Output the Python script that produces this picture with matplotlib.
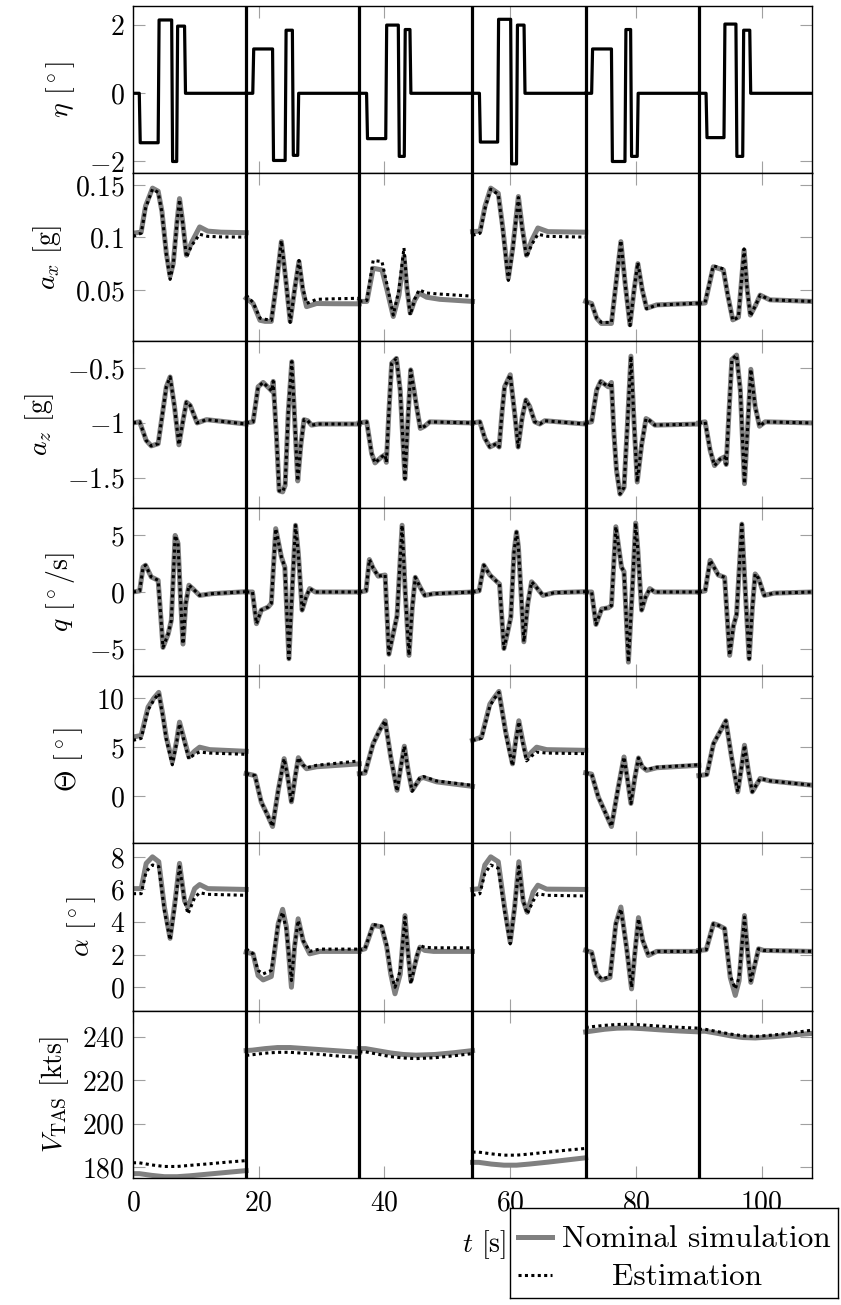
import numpy as np
import matplotlib
matplotlib.use("Agg")
import matplotlib.pyplot as plt
from matplotlib.ticker import FuncFormatter

plt.rcParams['font.family'] = 'serif'
plt.rcParams['font.serif'] = ['cmr10', 'DejaVu Serif']
plt.rcParams['mathtext.fontset'] = 'cm'
plt.rcParams['axes.formatter.use_mathtext'] = True
plt.rcParams['axes.unicode_minus'] = True

seg_len = 18  # [s] duration of each manoeuvre
n_seg = 6

# --------- elevator deflection eta [deg] --------- #
eta_t = [[0, 1.0, 1.15, 4.0, 4.15, 6.15, 6.3, 6.95, 7.1, 8.2, 8.35, 18],
         [0, 1.05, 1.2, 4.2, 4.35, 6.2, 6.35, 7.35, 7.5, 8.2, 8.35, 18],
         [0, 1.15, 1.3, 4.2, 4.35, 6.2, 6.35, 7.15, 7.3, 8.05, 8.2, 18],
         [0, 1.1, 1.25, 4.0, 4.15, 6.07, 6.22, 7.0, 7.15, 8.2, 8.35, 18],
         [0, 0.95, 1.1, 4.1, 4.25, 6.25, 6.4, 7.15, 7.3, 8.2, 8.35, 18],
         [0, 1.15, 1.3, 4.0, 4.15, 5.9, 6.05, 6.98, 7.13, 8.1, 8.25, 18]]
eta_v = [[0, 0, -1.45, -1.45, 2.15, 2.15, -2.0, -2.0, 1.97, 1.97, 0, 0],
         [0, 0, 1.3, 1.3, -1.97, -1.97, 1.85, 1.85, -1.82, -1.82, 0, 0],
         [0, 0, -1.33, -1.33, 2.0, 2.0, -1.85, -1.85, 1.87, 1.87, 0, 0],
         [0, 0, -1.43, -1.43, 2.17, 2.17, -2.07, -2.07, 2.0, 2.0, 0, 0],
         [0, 0, 1.3, 1.3, -2.0, -2.0, 1.87, 1.87, -1.85, -1.85, 0, 0],
         [0, 0, -1.3, -1.3, 2.03, 2.03, -1.85, -1.85, 1.85, 1.85, 0, 0]]

# --------- a_x [g] --------- #
ax_t = [[0, 1.3, 2.0, 3.1, 4.0, 4.6, 5.3, 5.9, 6.4, 7.0, 7.4, 7.9, 8.5, 9.3, 10.6, 11.9, 14.0, 18],
        [0, 1.1, 2.2, 3.0, 4.0, 4.8, 5.6, 6.3, 7.0, 7.7, 8.4, 9.0, 9.6, 11.2, 14, 18],
        [0, 1.2, 2.2, 3.6, 4.4, 5.4, 6.3, 7.1, 7.6, 8.1, 8.8, 9.5, 10.7, 12.8, 18],
        [0, 1.2, 2.0, 2.9, 4.1, 4.8, 5.7, 6.4, 7.3, 7.9, 8.6, 9.4, 10.4, 12.0, 18],
        [0, 0.95, 1.75, 2.5, 4.1, 4.9, 5.6, 6.3, 7.05, 7.7, 8.3, 9.0, 9.7, 11.3, 18],
        [0, 1.0, 2.3, 3.9, 4.6, 5.4, 6.3, 7.2, 7.7, 8.2, 9.0, 9.75, 11.3, 18]]
ax_nom = [[0.104, 0.105, 0.13, 0.147, 0.144, 0.125, 0.085, 0.063, 0.075, 0.115, 0.137, 0.115, 0.083, 0.095, 0.110, 0.106, 0.105, 0.1045],
          [0.042, 0.037, 0.021, 0.020, 0.020, 0.055, 0.096, 0.06, 0.020, 0.05, 0.077, 0.05, 0.034, 0.037, 0.0368, 0.0367],
          [0.039, 0.039, 0.0706, 0.069, 0.05, 0.0246, 0.045, 0.082, 0.05, 0.028, 0.04, 0.047, 0.043, 0.041, 0.039],
          [0.1055, 0.106, 0.13, 0.147, 0.142, 0.11, 0.061, 0.09, 0.139, 0.11, 0.083, 0.097, 0.109, 0.1055, 0.105],
          [0.039, 0.037, 0.023, 0.018, 0.018, 0.06, 0.096, 0.055, 0.0167, 0.05, 0.075, 0.05, 0.0325, 0.0357, 0.0373],
          [0.037, 0.0375, 0.072, 0.069, 0.045, 0.0214, 0.024, 0.088, 0.05, 0.026, 0.035, 0.045, 0.0405, 0.039]]
ax_est = [[0.101, 0.104, 0.128, 0.146, 0.143, 0.124, 0.084, 0.060, 0.074, 0.114, 0.136, 0.114, 0.081, 0.092, 0.103, 0.101, 0.1005, 0.1003],
          [0.045, 0.038, 0.023, 0.022, 0.021, 0.055, 0.097, 0.06, 0.019, 0.05, 0.078, 0.052, 0.037, 0.041, 0.0415, 0.042],
          [0.039, 0.040, 0.078, 0.077, 0.055, 0.026, 0.05, 0.090, 0.052, 0.026, 0.041, 0.05, 0.047, 0.046, 0.044],
          [0.102, 0.104, 0.128, 0.146, 0.141, 0.108, 0.059, 0.088, 0.138, 0.108, 0.081, 0.093, 0.103, 0.101, 0.1003],
          [0.038, 0.037, 0.023, 0.019, 0.019, 0.06, 0.097, 0.055, 0.016, 0.05, 0.076, 0.05, 0.032, 0.0355, 0.0373],
          [0.037, 0.038, 0.073, 0.070, 0.045, 0.021, 0.024, 0.089, 0.05, 0.025, 0.035, 0.045, 0.0405, 0.039]]

# --------- a_z [g] --------- #
az_t = [[0, 1.06, 2.1, 2.9, 4.0, 4.6, 5.3, 5.9, 6.6, 7.3, 7.95, 8.5, 9.1, 10.2, 11.7, 18],
        [0, 1.1, 1.9, 2.7, 3.6, 4.1, 4.3, 4.8, 5.25, 5.8, 6.2, 6.7, 7.26, 7.7, 8.2, 8.7, 9.2, 9.8, 10.4, 11.5, 18],
        [0, 1.17, 1.96, 2.5, 3.55, 4.1, 4.3, 4.7, 5.14, 5.9, 6.5, 7.26, 7.7, 8.17, 8.7, 9.1, 9.7, 10.4, 11.2, 18],
        [0, 1.17, 1.96, 2.76, 3.8, 4.24, 4.7, 5.1, 6.0, 6.7, 7.26, 7.9, 8.5, 9.1, 9.9, 10.7, 11.5, 18],
        [0, 0.95, 1.75, 2.4, 3.6, 4.1, 4.5, 4.9, 5.46, 6.1, 6.7, 7.2, 7.7, 8.2, 8.9, 9.6, 10.2, 11.0, 18],
        [0, 1.0, 1.8, 2.5, 3.4, 4.1, 4.35, 4.8, 5.25, 6.0, 6.6, 7.26, 7.8, 8.27, 8.96, 9.65, 10.55, 18]]
az_nom = [[-1.0, -0.99, -1.16, -1.21, -1.19, -0.95, -0.67, -0.58, -0.85, -1.20, -0.98, -0.81, -0.84, -1.0, -0.97, -1.01],
          [-1.0, -0.99, -0.67, -0.63, -0.68, -0.71, -0.62, -1.1, -1.62, -1.63, -1.57, -0.9, -0.44, -0.95, -1.53, -1.2, -0.97, -0.98, -1.02, -1.01, -1.01],
          [-1.0, -0.99, -1.28, -1.365, -1.31, -1.29, -1.36, -0.9, -0.455, -0.41, -0.7, -1.51, -1.0, -0.515, -0.7, -0.85, -1.05, -1.03, -0.99, -1.0],
          [-1.0, -0.99, -1.14, -1.22, -1.19, -1.22, -0.9, -0.67, -0.56, -0.91, -1.22, -0.95, -0.79, -0.85, -0.99, -1.01, -0.98, -1.01],
          [-1.0, -0.99, -0.70, -0.62, -0.67, -0.63, -1.1, -1.43, -1.65, -1.59, -0.95, -0.39, -1.0, -1.54, -1.2, -0.96, -0.98, -1.02, -1.01],
          [-1.0, -0.99, -1.25, -1.39, -1.33, -1.31, -1.38, -0.9, -0.42, -0.38, -0.7, -1.555, -1.0, -0.51, -0.85, -1.03, -0.99, -1.0]]
az_est = az_nom  # estimation lies on the nominal curve

# --------- q [deg/s] --------- #
q_t = [[0, 1.06, 1.6, 2.0, 2.9, 4.0, 4.4, 4.77, 5.6, 6.1, 6.7, 7.16, 7.6, 7.95, 8.4, 8.9, 9.5, 10.6, 12.5, 18],
       [0, 1.0, 1.64, 2.4, 3.5, 4.0, 4.7, 5.6, 6.15, 6.8, 7.3, 7.85, 8.3, 8.9, 9.5, 10.1, 11.0, 18],
       [0, 1.06, 1.6, 2.2, 3.0, 4.1, 4.7, 5.5, 6.0, 6.8, 7.3, 7.9, 8.4, 8.9, 9.65, 10.4, 11.8, 18],
       [0, 1.06, 1.8, 2.76, 3.9, 4.3, 5.0, 5.8, 6.1, 6.6, 7.0, 7.3, 8.17, 8.8, 9.4, 9.9, 11.2, 13, 18],
       [0, 0.95, 1.64, 2.55, 3.6, 4.1, 4.8, 5.7, 6.1, 6.8, 7.4, 7.95, 8.3, 8.9, 9.5, 10.2, 11, 18],
       [0, 1.0, 1.8, 2.4, 3.1, 4.1, 4.9, 5.5, 6.0, 6.84, 7.4, 8.0, 8.5, 8.96, 9.5, 10.4, 12, 18]]
q_nom = [[0, 0.1, 2.2, 2.37, 1.33, 1.03, -2.0, -4.9, -3.7, -2.5, 5.0, 4.3, -1.0, -4.6, -1.0, 0.6, 0.3, -0.3, -0.15, 0.03],
         [0, 0, -2.8, -1.6, -1.33, -1.0, 5.6, 3.1, 2.2, -5.9, 0, 5.9, 3.4, -1.6, -0.5, 0.3, 0.0, 0.0],
         [0, 0.1, 2.87, 2.1, 1.4, 1.5, -5.5, -3.4, -2.1, 5.9, 0, -5.6, -1.5, 1.3, 0.44, -0.3, -0.15, 0.0],
         [0, 0.1, 2.37, 1.5, 0.9, 0.7, -5.0, -3.0, -2.2, 3.5, 5.3, 4.0, -4.4, -1.0, 0.9, 0.6, -0.3, -0.06, 0.03],
         [0, 0, -2.87, -1.5, -1.4, -1.2, 5.77, 2.2, 1.8, -6.2, 0, 6.1, 3.7, -1.6, -0.5, 0.3, 0.0, 0.0],
         [0, 0.1, 2.8, 2.2, 1.5, 1.3, -5.6, -3.0, -2.0, 6.0, 0, -5.9, -1.5, 1.6, 1.2, -0.3, -0.1, 0.0]]
q_est = q_nom

# --------- Theta [deg] --------- #
th_t = [[0, 1.3, 2.4, 3.3, 4.1, 4.7, 5.3, 6.25, 6.9, 7.4, 8.06, 8.9, 9.8, 10.6, 12.2, 18],
        [0, 1.4, 2.4, 3.3, 4.2, 5.1, 6.04, 6.6, 7.2, 7.8, 8.3, 9.0, 9.6, 11.2, 18],
        [0, 0.9, 2.2, 3.2, 4.1, 5.0, 6.0, 6.6, 7.16, 7.8, 8.4, 9.65, 10.2, 12.3, 18],
        [0, 1.43, 2.76, 3.5, 4.2, 5.3, 6.36, 6.9, 7.37, 8.0, 8.6, 9.4, 10.2, 11.8, 18],
        [0, 0.95, 2.0, 3.0, 4.1, 5.2, 6.1, 6.7, 7.2, 7.8, 8.4, 9.0, 9.7, 11.3, 18],
        [0, 1.27, 2.33, 3.3, 4.3, 5.2, 6.2, 6.8, 7.26, 7.9, 8.5, 9.75, 11.3, 18]]
th_nom = [[6.03, 6.2, 9.1, 10.0, 10.6, 8.5, 6.0, 3.5, 5.5, 7.56, 6.0, 4.0, 4.6, 5.0, 4.75, 4.58],
          [2.3, 2.1, -0.6, -1.8, -3.1, 0.6, 3.83, 2.0, -0.58, 2.0, 3.93, 3.2, 2.8, 3.0, 3.3],
          [2.3, 2.35, 5.36, 6.7, 7.7, 4.0, 0.6, 3.0, 5.1, 2.5, 0.6, 1.8, 1.9, 1.46, 1.0],
          [5.7, 6.03, 9.4, 10.1, 10.7, 6.5, 3.3, 5.8, 7.7, 5.6, 3.9, 4.5, 5.0, 4.75, 4.68],
          [2.37, 2.25, -0.07, -1.5, -3.1, 0.95, 4.0, 1.5, -0.75, 1.8, 3.9, 3.0, 2.64, 2.9, 3.15],
          [2.1, 2.2, 5.36, 6.5, 7.7, 4.0, 0.44, 3.0, 5.2, 2.5, 0.44, 1.8, 1.56, 1.12]]
th_est = [[5.7, 5.9, 8.8, 9.8, 10.5, 8.3, 5.8, 3.2, 5.3, 7.4, 5.8, 3.8, 4.3, 4.5, 4.4, 4.27],
          [2.3, 2.1, -0.6, -1.8, -3.1, 0.6, 3.83, 2.0, -0.7, 2.0, 3.93, 3.2, 2.9, 3.15, 3.6],
          [2.3, 2.35, 5.36, 6.7, 7.7, 4.0, 0.5, 3.0, 5.1, 2.5, 0.5, 1.9, 2.0, 1.55, 1.1],
          [5.7, 5.9, 9.2, 10.0, 10.6, 6.3, 3.1, 5.6, 7.6, 5.4, 3.6, 4.1, 4.5, 4.4, 4.34],
          [2.37, 2.25, -0.07, -1.5, -3.1, 0.95, 4.0, 1.5, -0.75, 1.8, 3.9, 3.0, 2.7, 2.95, 3.2],
          [2.1, 2.2, 5.36, 6.5, 7.7, 4.0, 0.44, 3.0, 5.2, 2.5, 0.44, 1.8, 1.56, 1.12]]

# --------- alpha [deg] --------- #
al_t = [[0, 1.3, 2.1, 3.1, 4.1, 5.0, 5.9, 6.7, 7.4, 8.2, 8.75, 9.8, 10.6, 11.9, 18],
        [0, 1.1, 1.9, 2.7, 4.0, 5.1, 5.8, 6.4, 7.2, 7.7, 8.27, 9.07, 10.1, 11.7, 18],
        [0, 0.9, 2.2, 3.55, 4.35, 5.0, 5.67, 6.5, 7.26, 7.7, 8.2, 9.2, 9.65, 10.4, 11.8, 18],
        [0, 1.17, 1.96, 2.9, 4.1, 5.1, 6.0, 6.7, 7.37, 8.06, 8.7, 9.65, 10.4, 11.8, 18],
        [0, 0.95, 1.75, 2.55, 3.87, 4.8, 5.6, 6.5, 7.3, 7.8, 8.4, 9.07, 9.97, 11.3, 18],
        [0, 1.17, 2.33, 3.1, 4.1, 5.0, 5.8, 6.4, 7.26, 7.8, 8.27, 9.5, 10.3, 18]]
al_nom = [[6.05, 6.05, 7.6, 8.0, 7.7, 4.9, 3.0, 5.3, 7.6, 5.3, 4.9, 6.05, 6.3, 6.05, 6.0],
          [2.15, 2.05, 0.72, 0.45, 0.66, 3.9, 4.78, 3.7, 0.0, 2.5, 4.2, 2.85, 2.05, 2.2, 2.2],
          [2.26, 2.36, 3.8, 3.7, 2.5, 0.8, -0.4, 0.8, 4.4, 2.3, 0.4, 1.95, 2.46, 2.26, 2.2, 2.2],
          [6.0, 6.05, 7.5, 8.0, 7.7, 4.9, 2.77, 4.9, 7.7, 5.3, 4.6, 5.84, 6.26, 6.02, 6.0],
          [2.26, 2.15, 0.82, 0.45, 0.6, 3.9, 4.92, 2.46, -0.1, 2.0, 4.27, 2.87, 1.95, 2.2, 2.2],
          [2.26, 2.3, 3.9, 3.8, 3.6, 0.6, -0.5, 0.4, 4.4, 2.0, 0.3, 2.36, 2.26, 2.2]]
al_est = [[5.74, 5.74, 7.1, 7.5, 7.4, 4.7, 2.9, 5.1, 7.4, 5.3, 4.5, 5.5, 5.8, 5.7, 5.64],
          [2.36, 2.05, 1.03, 0.82, 1.03, 3.9, 4.6, 3.5, 0.41, 2.5, 4.1, 2.85, 2.2, 2.34, 2.34],
          [2.26, 2.36, 3.85, 3.75, 2.6, 0.9, 0.0, 1.0, 4.3, 2.3, 0.2, 2.0, 2.56, 2.45, 2.42, 2.42],
          [5.64, 5.74, 6.97, 7.5, 7.3, 4.7, 2.66, 4.9, 7.4, 5.3, 4.5, 5.3, 5.74, 5.64, 5.6],
          [2.26, 2.15, 0.82, 0.5, 0.65, 3.9, 4.8, 2.4, 0.0, 2.0, 4.2, 2.87, 2.0, 2.2, 2.2],
          [2.26, 2.3, 3.9, 3.8, 3.6, 0.7, -0.1, 0.6, 4.3, 2.0, 0.4, 2.36, 2.26, 2.2]]

# --------- V_TAS [kts] --------- #
v_t = [0, 1, 3, 5, 7, 9, 12, 15, 18]
v_nom = [[177.0, 177.0, 176.2, 175.6, 175.6, 176.0, 176.8, 177.6, 178.4],
         [233.6, 233.8, 234.5, 235.0, 235.0, 234.6, 234.0, 233.4, 232.8],
         [234.5, 234.5, 233.5, 232.5, 231.8, 231.5, 231.8, 232.6, 233.6],
         [182.2, 182.2, 181.4, 180.9, 180.9, 181.4, 182.3, 183.3, 184.3],
         [242.2, 242.6, 243.4, 243.9, 244.0, 243.7, 243.1, 242.6, 242.2],
         [242.5, 242.5, 241.5, 240.4, 239.6, 239.4, 240.0, 240.8, 241.5]]
v_est = [[182.0, 182.0, 181.0, 180.3, 180.3, 180.8, 181.5, 182.3, 183.0],
         [231.4, 231.7, 232.4, 232.8, 232.8, 232.4, 231.8, 231.0, 230.5],
         [233.0, 233.0, 231.9, 230.8, 230.2, 229.9, 230.3, 231.2, 232.2],
         [186.9, 186.9, 186.1, 185.5, 185.5, 186.0, 186.9, 187.8, 188.6],
         [244.2, 244.6, 245.2, 245.6, 245.7, 245.4, 244.8, 244.3, 243.9],
         [243.4, 243.4, 242.3, 241.2, 240.4, 240.1, 240.8, 241.8, 243.0]]

panels = [
    (r'$\eta$ [$^\circ$]', eta_t, eta_v, None, (-2.35, 2.56), [-2, 0, 2]),
    (r'$a_x$ [g]', ax_t, ax_nom, ax_est, (0.0014, 0.161), [0.05, 0.1, 0.15]),
    (r'$a_z$ [g]', az_t, az_nom, az_est, (-1.78, -0.25), [-1.5, -1, -0.5]),
    (r'$q$ [$^\circ$/s]', q_t, q_nom, q_est, (-7.4, 7.4), [-5, 0, 5]),
    (r'$\Theta$ [$^\circ$]', th_t, th_nom, th_est, (-4.8, 12.3), [0, 5, 10]),
    (r'$\alpha$ [$^\circ$]', al_t, al_nom, al_est, (-1.43, 8.84), [0, 2, 4, 6, 8]),
    (r'$V_{\mathrm{TAS}}$ [kts]', [v_t] * n_seg, v_nom, v_est, (175, 252), [180, 200, 220, 240]),
]

W, H = 841, 1305
fig, axs = plt.subplots(7, 1, figsize=(W / 100, H / 100), dpi=100, sharex=True)
fig.subplots_adjust(left=133 / W, right=812 / W, top=1 - 6 / H, bottom=1 - 1178 / H, hspace=0)

fmt = FuncFormatter(lambda v, p: f'${v:g}$')

for a, (lab, tt, nom, est, ylim, yt) in zip(axs, panels):
    for k in range(n_seg):
        t0 = k * seg_len
        x = np.array(tt[k]) + t0
        if est is None:
            a.plot(x, nom[k], color='black', lw=2.3, solid_joinstyle='round', zorder=3)
        else:
            a.plot(x, nom[k], color='#808080', lw=3.6, solid_joinstyle='round', zorder=3)
            a.plot(x, est[k], color='black', lw=2.2, linestyle=(0, (1, 1.1)),
                   dash_capstyle='butt', zorder=4)
    for k in range(1, n_seg):
        a.axvline(k * seg_len, color='black', lw=2.3, zorder=5)
    a.set_xlim(0, 108)
    a.set_ylim(*ylim)
    a.set_yticks(yt)
    a.yaxis.set_major_formatter(fmt)
    a.set_xticks([0, 20, 40, 60, 80, 100])
    a.xaxis.set_major_formatter(fmt)
    a.tick_params(direction='in', length=8.5, width=0.8, color='#a0a0a0',
                  top=True, right=True, labelsize=20, pad=6)
    a.set_ylabel(lab, fontsize=20, labelpad=8)
    for s in a.spines.values():
        s.set_linewidth(1.0)
        s.set_zorder(6)

axs[-1].tick_params(axis='x', pad=9)
fig.text(484 / W, 1 - 1245 / H, r'$t$ [s]', fontsize=20, ha='center', va='center')

# legend box
lg = fig.add_axes([510 / W, 1 - 1298 / H, 328 / W, 90 / H])
lg.set_xlim(0, 328)
lg.set_ylim(90, 0)
lg.set_xticks([])
lg.set_yticks([])
for s in lg.spines.values():
    s.set_linewidth(1.0)
lg.plot([8, 42], [29, 29], color='#808080', lw=3.6)
lg.plot([8, 42], [67, 67], color='black', lw=2.2, linestyle=(0, (1, 1.1)), dash_capstyle='butt')
lg.text(186, 31, 'Nominal simulation', fontsize=22.5, ha='center', va='center')
lg.text(177, 69, 'Estimation', fontsize=22.5, ha='center', va='center')

fig.savefig('out.png', dpi=100)
